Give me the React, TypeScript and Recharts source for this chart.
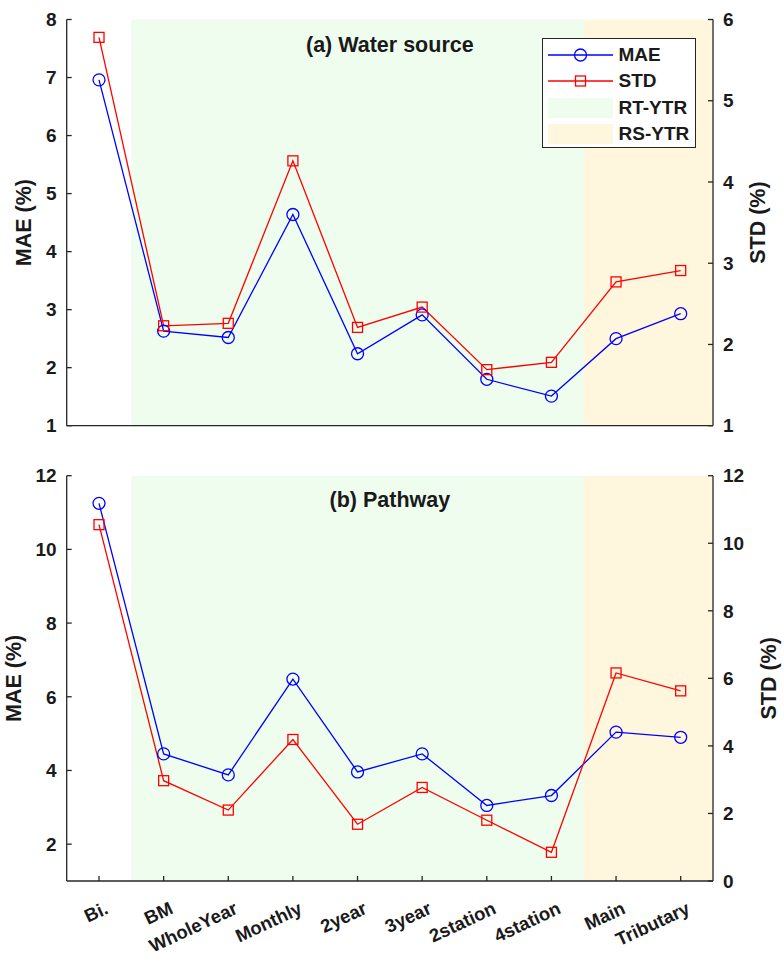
import { ComposedChart, Legend, Line, ReferenceArea, XAxis, YAxis } from 'recharts';

const categories = ['Bi.', 'BM', 'WholeYear', 'Monthly', '2year', '3year', '2station', '4station', 'Main', 'Tributary'];

const waterMae = [6.96, 2.63, 2.52, 4.64, 2.24, 2.91, 1.8, 1.51, 2.5, 2.93];
const waterStd = [5.78, 2.23, 2.26, 4.26, 2.21, 2.46, 1.69, 1.78, 2.77, 2.91];
const pathMae = [11.25, 4.45, 3.88, 6.48, 3.96, 4.45, 3.05, 3.32, 5.04, 4.9];
const pathStd = [10.55, 2.97, 2.1, 4.19, 1.68, 2.77, 1.8, 0.85, 6.16, 5.63];

const xTicks = [1, 2, 3, 4, 5, 6, 7, 8, 9, 10];
const xDomain = [0.5, 10.5];
const rtYtrSpan = [1.5, 8.5];
const rsYtrSpan = [8.5, 10.5];

const waterMaeTicks = [1, 2, 3, 4, 5, 6, 7, 8];
const waterStdTicks = [1, 2, 3, 4, 5, 6];
const pathMaeTicks = [2, 4, 6, 8, 10, 12];
const pathStdTicks = [0, 2, 4, 6, 8, 10, 12];

const FONT = '"Liberation Sans", Arial, Helvetica, sans-serif';
const AXIS = '#262626';
const TEXT = '#1a1a1a';
const BLUE = '#0000ff';
const RED = '#ff0000';
const GREEN_BG = '#effdee';
const ORANGE_BG = '#fff6de';

const toRows = (mae: number[], std: number[]) =>
  categories.map((name, i) => ({ x: i + 1, name, mae: mae[i], std: std[i] }));

const tickStyle = { fill: TEXT, fontSize: 19, fontWeight: 'bold', fontFamily: FONT };

function SquareDot(props: any) {
  const { cx, cy, index } = props;
  if (cx == null || cy == null) return <g key={`sq-${index}`} />;
  return (
    <rect key={`sq-${index}`} x={cx - 5} y={cy - 5} width={10} height={10} fill="none" stroke={RED} strokeWidth={1.3} />
  );
}

// rotated category label, top-right corner pinned just right of the tick
function SlantTick(props: any) {
  const { x, y, payload } = props;
  const label = categories[Number(payload.value) - 1];
  return (
    <g transform={`translate(${Number(x) + 5},${Number(y)})`}>
      <text
        x={0}
        y={0}
        dy={13}
        textAnchor="end"
        transform="rotate(-25)"
        fontFamily={FONT}
        fontWeight="bold"
        fontSize={18.5}
        fill={TEXT}
      >
        {label}
      </text>
    </g>
  );
}

const legendRows = [
  { label: 'MAE', kind: 'circle' },
  { label: 'STD', kind: 'square' },
  { label: 'RT-YTR', kind: 'green' },
  { label: 'RS-YTR', kind: 'orange' },
];

function PanelLegend() {
  return (
    <div
      style={{
        boxSizing: 'border-box',
        width: 154,
        height: 110,
        border: `1.3px solid ${AXIS}`,
        background: '#fff',
        paddingTop: 3,
      }}
    >
      {legendRows.map((r) => (
        <div key={r.label} style={{ display: 'flex', alignItems: 'center', height: 26.5 }}>
          <svg width={65} height={22} style={{ marginLeft: 5, display: 'block' }}>
            {r.kind === 'circle' && (
              <g>
                <line x1={0} x2={65} y1={11} y2={11} stroke={BLUE} strokeWidth={1.3} />
                <circle cx={32.5} cy={11} r={6} fill="none" stroke={BLUE} strokeWidth={1.3} />
              </g>
            )}
            {r.kind === 'square' && (
              <g>
                <line x1={0} x2={65} y1={11} y2={11} stroke={RED} strokeWidth={1.3} />
                <rect x={27.5} y={6} width={10} height={10} fill="none" stroke={RED} strokeWidth={1.3} />
              </g>
            )}
            {r.kind === 'green' && <rect x={0} y={1} width={65} height={20} fill={GREEN_BG} />}
            {r.kind === 'orange' && <rect x={0} y={1} width={65} height={20} fill={ORANGE_BG} />}
          </svg>
          <span style={{ marginLeft: 6, fontFamily: FONT, fontWeight: 'bold', fontSize: 19, color: TEXT }}>
            {r.label}
          </span>
        </div>
      ))}
    </div>
  );
}

interface PanelProps {
  rows: ReturnType<typeof toRows>;
  title: string;
  top: number;
  height: number;
  marginTop: number;
  xHeight: number;
  maeDomain: number[];
  maeTicks: number[];
  stdDomain: number[];
  stdTicks: number[];
  labelShift: number;
  showLabels: boolean;
  showLegend: boolean;
  titleTop: number;
}

function Panel(p: PanelProps) {
  return (
    <div style={{ position: 'absolute', left: 0, top: p.top, width: 784, height: p.height }}>
      <ComposedChart width={784} height={p.height} data={p.rows} margin={{ top: p.marginTop, right: 0, bottom: 0, left: 0 }}>
        <ReferenceArea xAxisId="b" yAxisId="l" x1={rtYtrSpan[0]} x2={rtYtrSpan[1]} fill={GREEN_BG} fillOpacity={1} stroke="none" />
        <ReferenceArea xAxisId="b" yAxisId="l" x1={rsYtrSpan[0]} x2={rsYtrSpan[1]} fill={ORANGE_BG} fillOpacity={1} stroke="none" />
        <XAxis
          xAxisId="b"
          dataKey="x"
          type="number"
          domain={xDomain}
          ticks={xTicks}
          interval={0}
          height={p.xHeight}
          stroke={AXIS}
          strokeWidth={1.3}
          tickSize={-5}
          tickMargin={25}
          tick={p.showLabels ? <SlantTick /> : false}
        />
        <XAxis
          xAxisId="t"
          orientation="top"
          dataKey="x"
          type="number"
          domain={xDomain}
          ticks={xTicks}
          interval={0}
          height={0}
          stroke={AXIS}
          strokeWidth={1.3}
          tickSize={-5}
          tick={false}
        />
        <YAxis
          yAxisId="l"
          type="number"
          domain={p.maeDomain}
          ticks={p.maeTicks}
          interval={0}
          width={66.7}
          stroke={AXIS}
          strokeWidth={1.3}
          tickSize={-5}
          tickMargin={15}
          tick={tickStyle}
          label={{
            value: 'MAE (%)',
            angle: -90,
            position: 'center',
            dx: -9.5 - p.labelShift,
            fill: TEXT,
            fontSize: 21.5,
            fontWeight: 'bold',
            fontFamily: FONT,
          }}
        />
        <YAxis
          yAxisId="r"
          orientation="right"
          type="number"
          domain={p.stdDomain}
          ticks={p.stdTicks}
          interval={0}
          width={71}
          stroke={AXIS}
          strokeWidth={1.3}
          tickSize={-5}
          tickMargin={15}
          tick={tickStyle}
          label={{
            value: 'STD (%)',
            angle: -90,
            position: 'center',
            dx: 9 + p.labelShift,
            fill: TEXT,
            fontSize: 21.5,
            fontWeight: 'bold',
            fontFamily: FONT,
          }}
        />
        <Line
          xAxisId="b"
          yAxisId="l"
          dataKey="mae"
          name="MAE"
          type="linear"
          stroke={BLUE}
          strokeWidth={1.3}
          dot={{ r: 6, fill: 'none', stroke: BLUE, strokeWidth: 1.3 }}
          activeDot={false}
          isAnimationActive={false}
        />
        <Line
          xAxisId="b"
          yAxisId="r"
          dataKey="std"
          name="STD"
          type="linear"
          stroke={RED}
          strokeWidth={1.3}
          dot={(props: any) => <SquareDot {...props} key={`sq-${props.index}`} />}
          activeDot={false}
          isAnimationActive={false}
        />
        {p.showLegend && (
          <Legend
            layout="vertical"
            align="center"
            verticalAlign="middle"
            content={() => <PanelLegend />}
            wrapperStyle={{ left: 541.5, top: 37.5, width: 154, height: 110 }}
          />
        )}
      </ComposedChart>
      <div
        style={{
          position: 'absolute',
          left: 66.7,
          width: 646.3,
          top: p.titleTop,
          textAlign: 'center',
          fontFamily: FONT,
          fontWeight: 'bold',
          fontSize: 21.5,
          lineHeight: 1,
          color: TEXT,
          pointerEvents: 'none',
        }}
      >
        {p.title}
      </div>
    </div>
  );
}

export default function App() {
  return (
    <div style={{ position: 'absolute', left: 0, top: 0, width: 784, height: 964, background: '#fff', overflow: 'hidden' }}>
      <Panel
        rows={toRows(waterMae, waterStd)}
        title="(a) Water source"
        top={0}
        height={450}
        marginTop={19.5}
        xHeight={24.3}
        maeDomain={[1, 8]}
        maeTicks={waterMaeTicks}
        stdDomain={[1, 6]}
        stdTicks={waterStdTicks}
        labelShift={0}
        showLabels={false}
        showLegend={true}
        titleTop={35}
      />
      <Panel
        rows={toRows(pathMae, pathStd)}
        title="(b) Pathway"
        top={450}
        height={514}
        marginTop={25.7}
        xHeight={83}
        maeDomain={[1, 12]}
        maeTicks={pathMaeTicks}
        stdDomain={[0, 12]}
        stdTicks={pathStdTicks}
        labelShift={10.5}
        showLabels={true}
        showLegend={false}
        titleTop={40}
      />
    </div>
  );
}
